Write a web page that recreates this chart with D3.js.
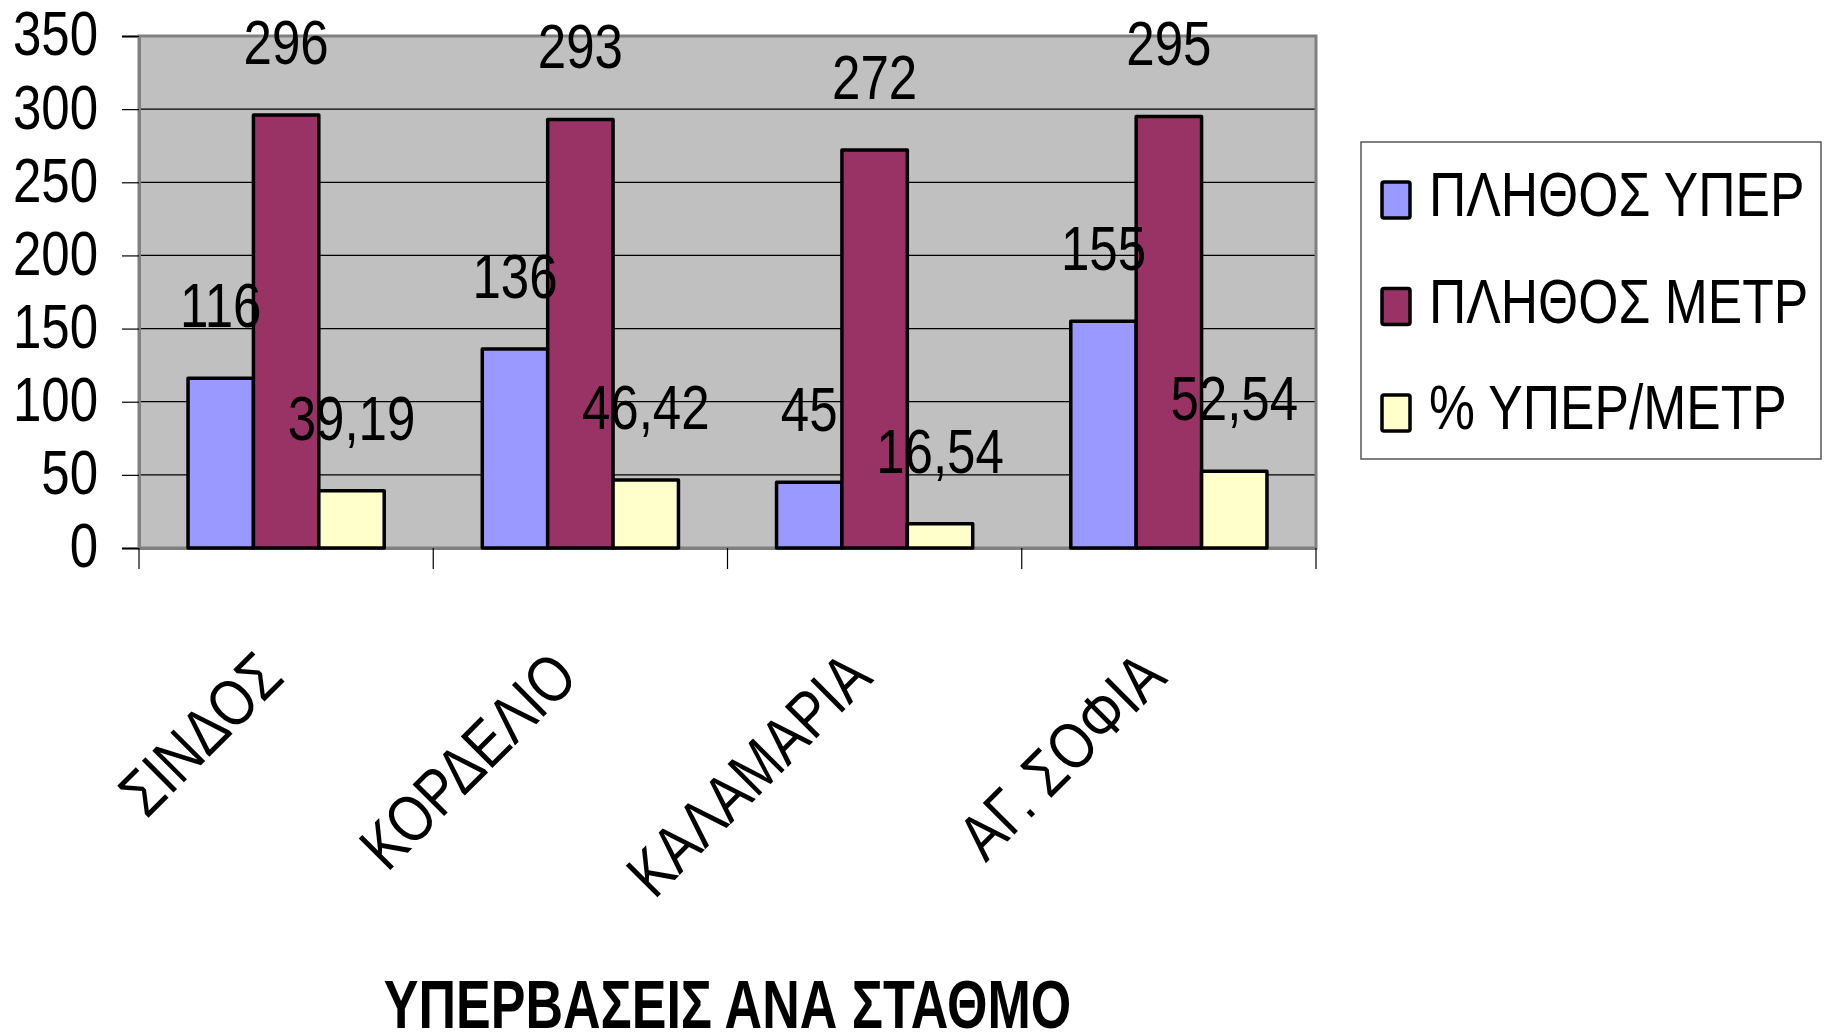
<!DOCTYPE html>
<html>
<head>
<meta charset="utf-8">
<script src="https://cdn.jsdelivr.net/npm/d3@7"></script>
<style>
  html, body { margin: 0; padding: 0; background: #ffffff; }
  svg { display: block; }
  text { font-family: "Liberation Sans", Arial, sans-serif; fill: #000; }
</style>
</head>
<body>
<svg id="chart" width="1825" height="1036"></svg>
<script>
// ---- data ----
const categories = ["ΣΙΝΔΟΣ", "ΚΟΡΔΕΛΙΟ", "ΚΑΛΑΜΑΡΙΑ", "ΑΓ. ΣΟΦΙΑ"];
const seriesNames = ["ΠΛΗΘΟΣ ΥΠΕΡ", "ΠΛΗΘΟΣ ΜΕΤΡ", "% ΥΠΕΡ/ΜΕΤΡ"];
const plithosYper = [116, 136, 45, 155];
const plithosMetr = [296, 293, 272, 295];
const pctYperMetr = [39.19, 46.42, 16.54, 52.54];
const yTicks = [0, 50, 100, 150, 200, 250, 300, 350];
const colors = ["#9999FF", "#993366", "#FFFFCC"];
const title = "ΥΠΕΡΒΑΣΕΙΣ ΑΝΑ ΣΤΑΘΜΟ";

const seriesValues = [plithosYper, plithosMetr, pctYperMetr];
const rows = categories.map((c, i) => ({ cat: c, vals: seriesValues.map(s => s[i]) }));

// ---- layout ----
const plot = { left: 139, right: 1316, top: 36, bottom: 548 };
const svg = d3.select("#chart");
const NARROW = 0.81;
const fmt = v => (Number.isInteger(v) ? String(v) : v.toFixed(2).replace(".", ","));

const x0 = d3.scaleBand().domain(categories).range([plot.left, plot.right]).paddingInner(0).paddingOuter(0);
const groupFrac = 3 / 4.5;
const x1 = d3.scaleBand().domain(d3.range(3))
  .range([0, x0.bandwidth() * groupFrac]).padding(0);
const groupOffset = (x0.bandwidth() - x0.bandwidth() * groupFrac) / 2;
const y = d3.scaleLinear().domain([0, 350]).range([plot.bottom, plot.top]);

// plot background
svg.append("rect")
  .attr("x", plot.left).attr("y", plot.top)
  .attr("width", plot.right - plot.left).attr("height", plot.bottom - plot.top)
  .attr("fill", "#C0C0C0");

// gridlines
svg.append("g").selectAll("line").data(yTicks.filter(t => t > 0 && t < 350)).join("line")
  .attr("x1", plot.left).attr("x2", plot.right)
  .attr("y1", d => y(d)).attr("y2", d => y(d))
  .attr("stroke", "#000").attr("stroke-width", 1.2);

// plot border
svg.append("rect")
  .attr("x", plot.left).attr("y", plot.top)
  .attr("width", plot.right - plot.left).attr("height", plot.bottom - plot.top)
  .attr("fill", "none").attr("stroke", "#808080").attr("stroke-width", 3);

// y axis ticks & labels
const yAxis = d3.axisLeft(y).tickValues(yTicks).tickSize(17).tickFormat(d => d);
const gy = svg.append("g").attr("transform", `translate(${plot.left},0)`).call(yAxis);
gy.select(".domain").attr("stroke", "#808080").attr("stroke-width", 3);
gy.selectAll(".tick line").attr("stroke", "#000").attr("stroke-width", 1.2);
gy.selectAll(".tick text").remove();
gy.selectAll(".tick").append("g")
  .attr("transform", `translate(-41,-3) scale(${NARROW},1)`)
  .append("text")
  .attr("text-anchor", "end").attr("dominant-baseline", "central")
  .style("font-size", "63px")
  .text(d => d);

// x axis
const xAxis = d3.axisBottom(x0).tickSize(0).tickFormat("");
const gx = svg.append("g").attr("transform", `translate(0,${plot.bottom})`).call(xAxis);
gx.select(".domain").attr("stroke", "#808080").attr("stroke-width", 3);
const boundaries = categories.map(c => x0(c)).concat([x0(categories[categories.length - 1]) + x0.bandwidth()]);
gx.selectAll(".bnd").data(boundaries).join("line").attr("class", "bnd")
  .attr("x1", d => d).attr("x2", d => d).attr("y1", 0).attr("y2", 21)
  .attr("stroke", "#000").attr("stroke-width", 1.2);

// category labels (rotated)
svg.append("g").selectAll("g").data(categories).join("g")
  .attr("transform", d => `translate(${x0(d) + x0.bandwidth() / 2},680) rotate(-45) scale(0.83,1)`)
  .append("text")
  .attr("text-anchor", "end")
  .style("font-size", "65px")
  .text(d => d);

// bars
const groups = svg.append("g").selectAll("g").data(rows).join("g")
  .attr("transform", d => `translate(${x0(d.cat) + groupOffset},0)`);
groups.selectAll("rect").data(d => d.vals.map((v, i) => ({ v, i }))).join("rect")
  .attr("x", d => x1(d.i)).attr("width", x1.bandwidth())
  .attr("y", d => y(d.v)).attr("height", d => y(0) - y(d.v))
  .attr("fill", d => colors[d.i])
  .attr("stroke", "#000").attr("stroke-width", 3.5).attr("stroke-linejoin", "round");

// data labels
groups.selectAll("g.lbl").data(d => d.vals.map((v, i) => ({ v, i }))).join("g")
  .attr("class", "lbl")
  .attr("transform", d => `translate(${x1(d.i) + x1.bandwidth() / 2},${y(d.v) - 51}) scale(${NARROW},1)`)
  .append("text")
  .attr("text-anchor", "middle")
  .style("font-size", "63px")
  .text(d => fmt(d.v));

// legend
const lg = svg.append("g").attr("transform", "translate(1361,142)");
lg.append("rect").attr("x", 0).attr("y", 0).attr("width", 460).attr("height", 317)
  .attr("fill", "#fff").attr("stroke", "#555").attr("stroke-width", 1.5);
const items = lg.selectAll("g").data(seriesNames).join("g")
  .attr("transform", (d, i) => `translate(0,${58 + i * 106.5})`);
items.append("rect").attr("x", 21).attr("y", -18).attr("width", 28).attr("height", 36)
  .attr("fill", (d, i) => colors[i]).attr("stroke", "#000").attr("stroke-width", 3.5)
  .attr("rx", 2);
items.append("g").attr("transform", `translate(68,16) scale(0.82,1)`)
  .append("text").style("font-size", "63px").text(d => d);

// title
svg.append("g").attr("transform", `translate(${(plot.left + plot.right) / 2},1028) scale(0.765,1)`)
  .append("text").attr("text-anchor", "middle")
  .style("font-size", "68px").style("font-weight", "bold")
  .text(title);
</script>
</body>
</html>
